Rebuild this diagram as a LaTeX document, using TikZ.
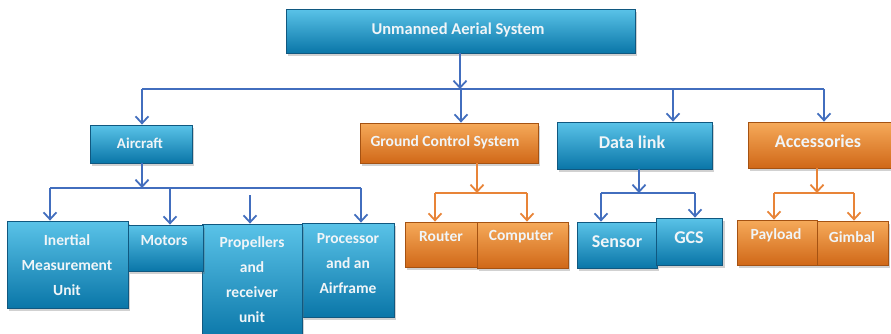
\documentclass[tikz,border=0pt]{standalone}
\usepackage{fontspec}
\setmainfont{Carlito}
\usetikzlibrary{arrows.meta,shadows}

\definecolor{bluetop}{RGB}{90,195,232}
\definecolor{bluemid}{RGB}{22,163,214}
\definecolor{bluebot}{RGB}{10,118,168}
\definecolor{blueedge}{RGB}{16,88,128}
\definecolor{orangetop}{RGB}{246,170,90}
\definecolor{orangemid}{RGB}{236,134,42}
\definecolor{orangebot}{RGB}{208,104,24}
\definecolor{orangeedge}{RGB}{165,82,18}
\definecolor{linkblue}{RGB}{66,110,190}
\definecolor{linkorange}{RGB}{232,132,56}
\definecolor{labelwhite}{RGB}{240,245,248}

\begin{document}
\begin{tikzpicture}[x=1pt,y=-1pt,
  box/.style={rectangle, inner sep=0pt, line width=0.8pt,
    drop shadow={shadow xshift=2pt, shadow yshift=-3pt, opacity=0.3, fill=black!60}},
  bluebox/.style={box, draw=blueedge, top color=bluetop, middle color=bluemid, bottom color=bluebot},
  orangebox/.style={box, draw=orangeedge, top color=orangetop, middle color=orangemid, bottom color=orangebot},
  lbl/.style={text=labelwhite, font=\bfseries\fontsize{15.5}{25}\selectfont, align=center, inner sep=0pt},
  biglbl/.style={lbl, font=\bfseries\fontsize{18}{22}\selectfont},
  bline/.style={draw=linkblue, line width=1.8pt},
  oline/.style={draw=linkorange, line width=1.8pt},
  barb/.style={-{Straight Barb[length=7pt,width=13pt,line width=1.8pt]}},
]
\useasboundingbox (0,0) rectangle (891,333);

% ---- boxes ----
\node[bluebox, minimum width=349, minimum height=44] (uas) at (460.5,31) {};
\node[bluebox, minimum width=102, minimum height=38] (aircraft) at (141,144) {};
\node[orangebox, minimum width=178, minimum height=40] (gcs) at (449,143) {};
\node[bluebox, minimum width=155, minimum height=47] (datalink) at (634.5,145.5) {};
\node[orangebox, minimum width=143, minimum height=46] (acc) at (819.5,145) {};

\node[bluebox, minimum width=121, minimum height=87] (imu) at (67.5,264.5) {};
\node[bluebox, minimum width=92, minimum height=94] (proc) at (348,270) {};
\node[bluebox, minimum width=100, minimum height=116] (prop) at (252,282) {};
\node[bluebox, minimum width=75, minimum height=46] (motors) at (165.5,248) {};

\node[orangebox, minimum width=72, minimum height=45] (router) at (441,244.5) {};
\node[orangebox, minimum width=91, minimum height=46] (computer) at (522.5,245) {};
\node[bluebox, minimum width=80, minimum height=46] (sensor) at (617,245) {};
\node[bluebox, minimum width=66, minimum height=47] (gcsunit) at (689.5,241.5) {};
\node[orangebox, minimum width=80, minimum height=45] (payload) at (777,242.5) {};
\node[orangebox, minimum width=71, minimum height=44] (gimbal) at (852.5,243) {};

% ---- labels ----
\node[lbl, font=\bfseries\fontsize{16.5}{20}\selectfont] (uas-t) at (458,30) {Unmanned Aerial System};
\node[lbl, font=\bfseries\fontsize{15}{20}\selectfont] (aircraft-t) at (140,143) {Aircraft};
\node[lbl, font=\bfseries\fontsize{15.5}{20}\selectfont] (gcs-t) at (445,142) {Ground Control System};
\node[biglbl] (datalink-t) at (632,142) {Data link};
\node[biglbl] (acc-t) at (818,141) {Accessories};

\node[lbl] (imu-t) at (67,265) {Inertial\\Measurement\\Unit};
\node[lbl] (motors-t) at (164,241) {Motors};
\node[lbl] (prop-t) at (252,280) {Propellers\\and\\receiver\\unit};
\node[lbl] (proc-t) at (348,264) {Processor\\and an\\Airframe};

\node[lbl] (router-t) at (441,237) {Router};
\node[lbl] (computer-t) at (521,237) {Computer};
\node[biglbl] (sensor-t) at (617,242) {Sensor};
\node[biglbl] (gcsunit-t) at (689,238) {GCS};
\node[lbl] (payload-t) at (776,235) {Payload};
\node[lbl] (gimbal-t) at (852,237) {Gimbal};

% ---- top level distribution ----
\coordinate (topbar-l) at (142,89);
\coordinate (topbar-r) at (824,89);
\coordinate (topbar-g) at (461,89);
\coordinate (topbar-d) at (673,89);
\coordinate (uas-in) at (460,89);
\draw[bline, barb] (uas.south -| uas-in) -- (uas-in);
\draw[bline] (topbar-l) -- (topbar-r);
\draw[bline, barb] (topbar-l) -- (topbar-l |- aircraft.north);
\draw[bline, barb] (topbar-g) -- (topbar-g |- gcs.north);
\draw[bline, barb] (topbar-d) -- (topbar-d |- datalink.north);
\draw[bline, barb] (topbar-r) -- (topbar-r |- acc.north);

% ---- aircraft parts ----
\coordinate (acbar-l) at (50,188);
\coordinate (acbar-m) at (170,188);
\coordinate (acbar-r) at (361,188);
\coordinate (acbar-c) at (142,188);
\coordinate (prop-in) at (250,195);
\draw[bline, barb] (aircraft.south -| acbar-c) -- (acbar-c);
\draw[bline] (acbar-l) -- (acbar-r);
\draw[bline, barb] (acbar-l) -- (acbar-l |- imu.north);
\draw[bline, barb] (acbar-m) -- (acbar-m |- motors.north);
\draw[bline, barb] (prop-in) -- (prop-in |- prop.north);
\draw[bline, barb] (acbar-r) -- (acbar-r |- proc.north);

% ---- ground control system parts ----
\coordinate (gbar-c) at (477,193);
\coordinate (gbar-l) at (435,193);
\coordinate (gbar-r) at (527,193);
\draw[oline, barb] (gcs.south -| gbar-c) -- (gbar-c);
\draw[oline] (gbar-l) -- (gbar-r);
\draw[oline, barb] (gbar-l) -- (gbar-l |- router.north);
\draw[oline, barb] (gbar-r) -- (gbar-r |- computer.north);

% ---- data link parts ----
\coordinate (dbar-c) at (639,193);
\coordinate (dbar-l) at (601,193);
\coordinate (dbar-r) at (695,193);
\draw[bline, barb] (datalink.south -| dbar-c) -- (dbar-c);
\draw[bline] (dbar-l) -- (dbar-r);
\draw[bline, barb] (dbar-l) -- (dbar-l |- sensor.north);
\draw[bline, barb] (dbar-r) -- (dbar-r |- gcsunit.north);

% ---- accessories parts ----
\coordinate (abar-c) at (817,193);
\coordinate (abar-l) at (774,193);
\coordinate (abar-r) at (854,193);
\draw[oline, barb] (acc.south -| abar-c) -- (abar-c);
\draw[oline] (abar-l) -- (abar-r);
\draw[oline, barb] (abar-l) -- (abar-l |- payload.north);
\draw[oline, barb] (abar-r) -- (abar-r |- gimbal.north);
\end{tikzpicture}
\end{document}
